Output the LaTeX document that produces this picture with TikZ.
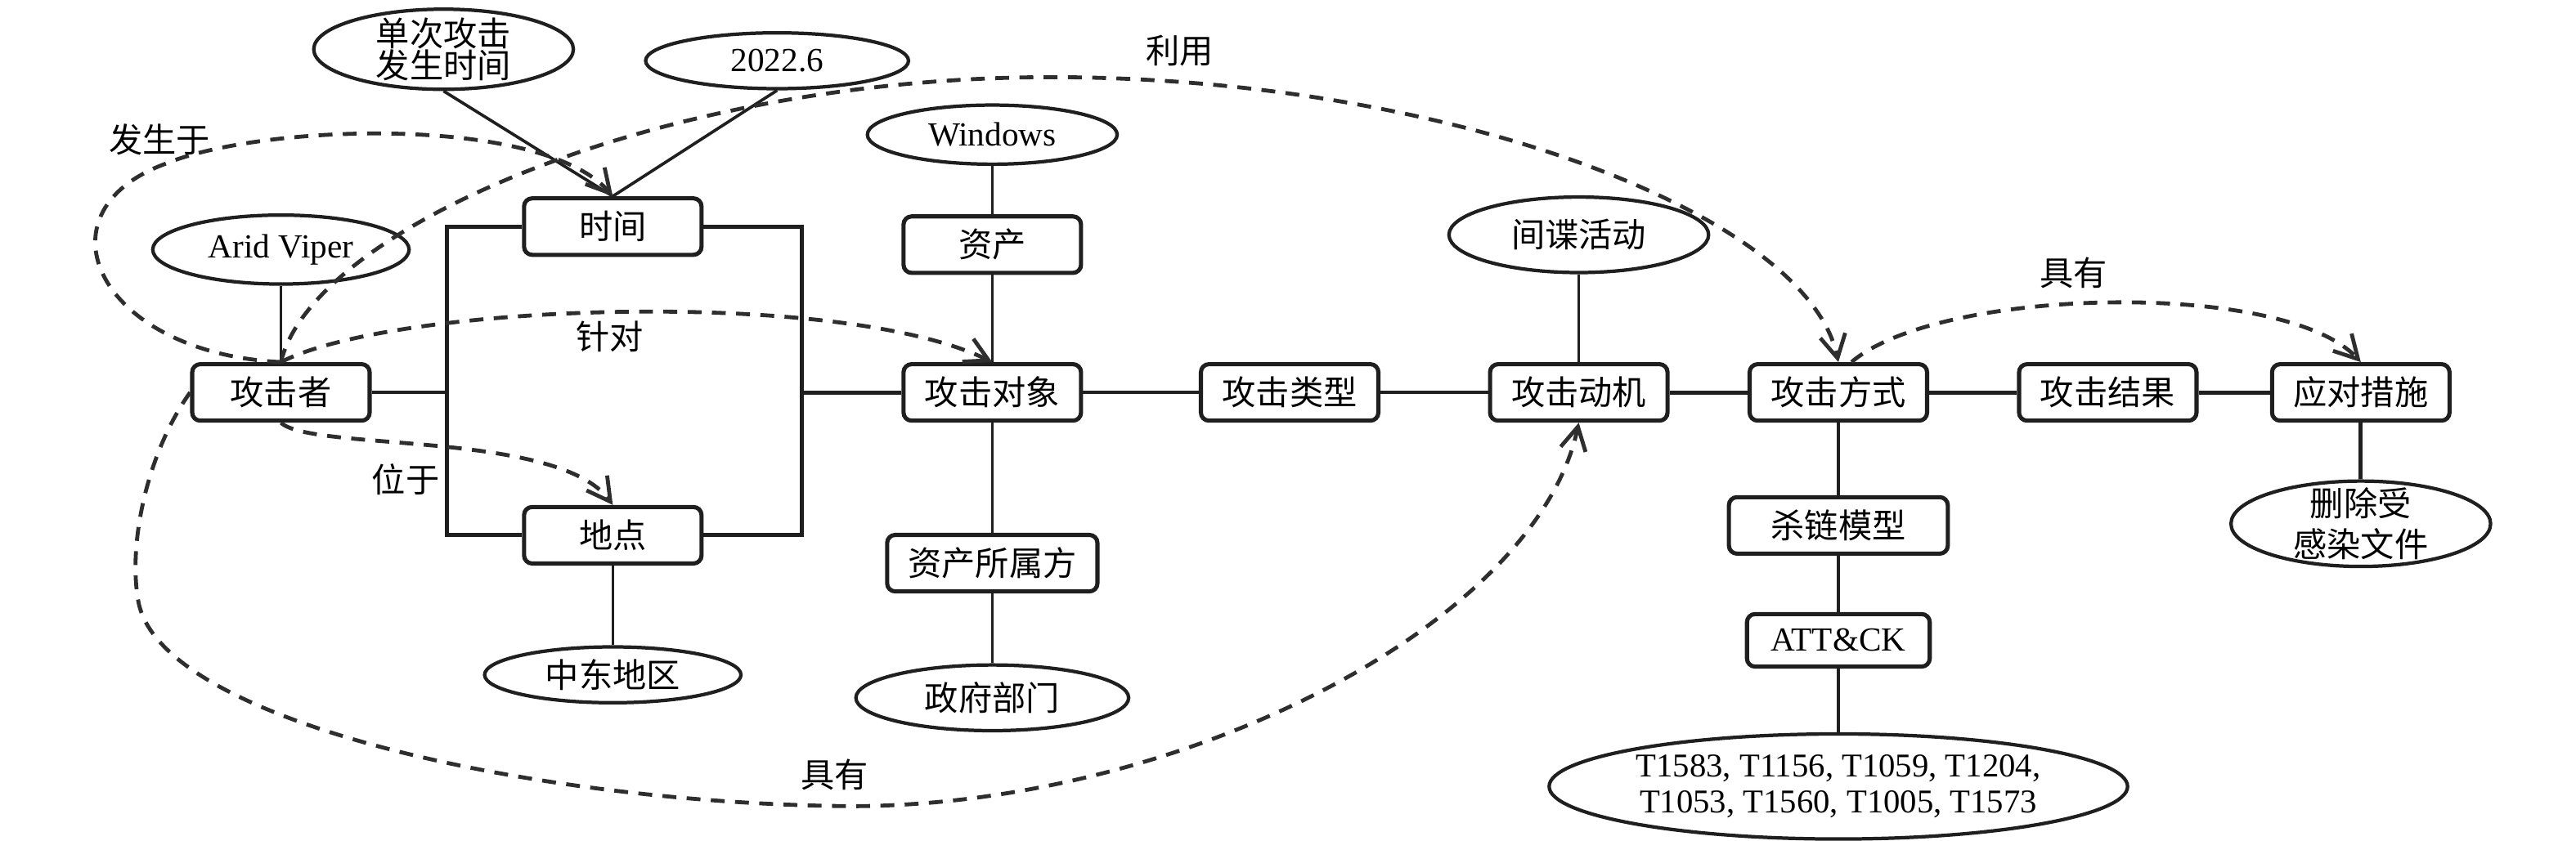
\documentclass[tikz,border=0pt]{standalone}
\usepackage{fontspec}
\setmainfont{Liberation Serif}
\newfontfamily\cjk{Noto Sans CJK SC}
\usetikzlibrary{shapes.geometric,arrows.meta}
\newcommand\myfs{\fontsize{14.6}{17}\selectfont}
\begin{document}
\begin{tikzpicture}[x=0.025cm,y=-0.025cm,
  box/.style={draw=black!88, rounded corners=3.5pt, line width=1.8pt, minimum width=2.7cm, minimum height=0.86cm, inner sep=1pt, font=\cjk\myfs},
  ell/.style={draw=black!88, ellipse, line width=1.5pt, inner sep=0pt, font=\myfs},
  lbl/.style={font=\cjk\myfs},
  conn/.style={draw=black!88, line width=1.3pt},
  thickconn/.style={draw=black!88, line width=1.8pt},
  dsh/.style={draw=black!82, line width=1.7pt, dash pattern=on 6pt off 4.5pt, -{Straight Barb[length=10pt,width=11pt]}}]
\useasboundingbox (0,0) rectangle (1568,512);

% ellipses
\node[ell, minimum width=3.95cm, minimum height=1.22cm,
  label={[align=center, font=\cjk\fontsize{14.6}{13.8}\selectfont]center:单次攻击\\发生时间}] (sdt) at (270,30) {};
\node[ell, minimum width=4.0cm, minimum height=0.85cm] (date) at (473,37) {2022.6};
\node[ell, minimum width=3.9cm, minimum height=1.05cm] (arid) at (171,152) {Arid Viper};
\node[ell, minimum width=3.8cm, minimum height=0.9cm] (win) at (604,82) {Windows};
\node[ell, minimum width=3.95cm, minimum height=1.15cm, font=\cjk\myfs] (spy) at (961,143) {间谍活动};
\node[ell, minimum width=3.9cm, minimum height=0.85cm, font=\cjk\myfs] (me) at (373,411) {中东地区};
\node[ell, minimum width=4.15cm, minimum height=1.0cm, font=\cjk\myfs] (gov) at (604,425) {政府部门};
\node[ell, minimum width=8.8cm, minimum height=1.6cm,
  label={[align=center, font=\fontsize{14.4}{15.5}\selectfont]center:T1583, T1156, T1059, T1204,\\T1053, T1560, T1005, T1573}] (tech) at (1119,479) {};
\node[ell, minimum width=3.95cm, minimum height=1.3cm,
  label={[align=center, font=\cjk\fontsize{14.6}{17.7}\selectfont]center:删除受\\感染文件}] (del) at (1437,319) {};

% boxes
\node[box] (atk) at (171,239) {攻击者};
\node[box] (time) at (373,138) {时间};
\node[box] (loc) at (373,326) {地点};
\node[box] (asset) at (604,149) {资产};
\node[box] (obj) at (604,239) {攻击对象};
\node[box, minimum width=3.2cm] (owner) at (604,343) {资产所属方};
\node[box] (typ) at (785,239) {攻击类型};
\node[box] (mot) at (961,239) {攻击动机};
\node[box] (way) at (1119,239) {攻击方式};
\node[box] (res) at (1283,239) {攻击结果};
\node[box] (resp) at (1437,239) {应对措施};
\node[box, minimum width=3.33cm] (chain) at (1119,320) {杀链模型};
\node[box, minimum width=2.78cm, minimum height=0.8cm, font=\myfs] (attck) at (1119,390) {ATT\&CK};

% labels
\node[lbl] (l1) at (97,85) {发生于};
\node[lbl] (l2) at (718,31) {利用};
\node[lbl] (l3) at (371,205) {针对};
\node[lbl] (l4) at (247,292) {位于};
\node[lbl] (l5) at (508,472) {具有};
\node[lbl] (l6) at (1262,166) {具有};

% bracket coordinates
\coordinate (lx) at (272,239);
\coordinate (rx) at (488,239);

% solid connectors
\draw[conn] (sdt.south) -- (time.north);
\draw[conn] (date.south) -- (time.north);
\draw[conn] (arid.south) -- (atk.north);
\draw[conn] (atk.east) -- (lx);
\draw[thickconn] (time.west) -| (lx) |- (loc.west);
\draw[thickconn] (time.east) -| (rx) |- (loc.east);
\draw[thickconn] (rx) -- (obj.west);
\draw[conn] (loc.south) -- (me.north);
\draw[conn] (win.south) -- (asset.north);
\draw[conn] (asset.south) -- (obj.north);
\draw[conn] (obj.south) -- (owner.north);
\draw[conn] (owner.south) -- (gov.north);
\draw[conn] (obj.east) -- (typ.west);
\draw[conn] (typ.east) -- (mot.west);
\draw[thickconn] (mot.east) -- (way.west);
\draw[thickconn] (way.east) -- (res.west);
\draw[thickconn] (res.east) -- (resp.west);
\draw[conn] (spy.south) -- (mot.north);
\draw[conn] (way.south) -- (chain.north);
\draw[conn] (chain.south) -- (attck.north);
\draw[conn] (attck.south) -- (tech.north);
\draw[thickconn] (resp.south) -- (del.north);

% dashed relations
\draw[dsh] (atk.north) .. controls (60,215) and (20,130) .. (100,100)
  .. controls (160,75) and (330,70) .. (time.north);
\draw[dsh] (atk.north) .. controls (240,185) and (510,175) .. (obj.north);
\draw[dsh] (atk.north) .. controls (190,140) and (400,47) .. (640,47)
  .. controls (880,47) and (1100,130) .. (way.north);
\draw[dsh] (atk.south) .. controls (190,275) and (340,262) .. (loc.north);
\draw[dsh] (atk.west) .. controls (90,275) and (78,330) .. (84,365)
  .. controls (95,440) and (330,490) .. (520,491)
  .. controls (720,490) and (935,380) .. (mot.south);
\draw[dsh] ([xshift=0.2cm]way.north) .. controls (1180,175) and (1390,170) .. (resp.north);
\end{tikzpicture}
\end{document}
